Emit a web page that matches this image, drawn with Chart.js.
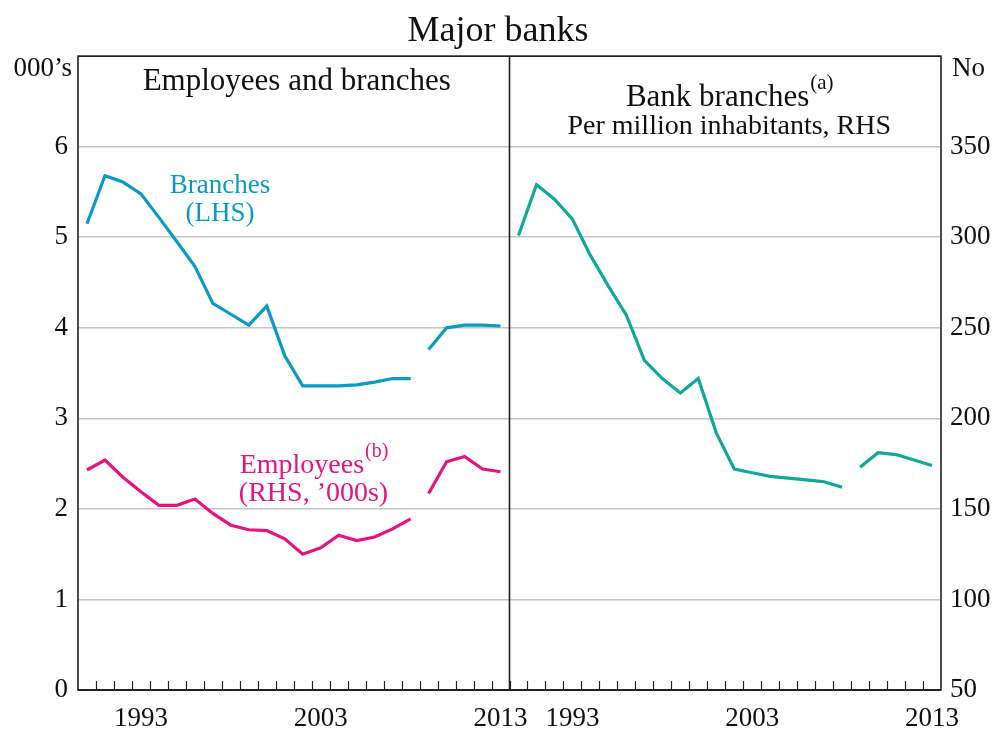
<!DOCTYPE html>
<html>
<head>
<meta charset="utf-8">
<script src="https://cdn.jsdelivr.net/npm/chart.js@4"></script>
<style>
  body { margin: 0; background: #fff; }
  #wrap { width: 996px; height: 731px; position: relative; }
</style>
</head>
<body>
<div id="wrap"><canvas id="banksChart"></canvas></div>
<script>
// annual data, major banks
const years = [1990, 1991, 1992, 1993, 1994, 1995, 1996, 1997, 1998, 1999, 2000, 2001,
               2002, 2003, 2004, 2005, 2006, 2007, 2008, 2009, 2010, 2011, 2012, 2013];
const branches = [5.15, 5.68, 5.61, 5.48, 5.22, 4.95, 4.68, 4.27, 4.15, 4.03, 4.24, 3.69,
                  3.36, 3.36, 3.36, 3.37, 3.40, 3.44, 3.44, 3.76, 4.00, 4.03, 4.03, 4.02];
const employees = [2.43, 2.54, 2.35, 2.19, 2.04, 2.04, 2.11, 1.95, 1.82, 1.77, 1.76, 1.67,
                   1.50, 1.57, 1.71, 1.65, 1.69, 1.78, 1.89, 2.17, 2.52, 2.58, 2.44, 2.41];
const branchesPerMillion = [301, 329, 321, 310, 290, 273, 257, 232, 222, 214, 222, 192,
                            172, 170, 168, 167, 166, 165, 162, 173, 181, 180, 177, 174];
const breakAfter = 2008;          // series break between 2008 and 2009
const tickYears = [1993, 2003, 2013];
const leftTicks = [0, 1, 2, 3, 4, 5, 6];
const rightTicks = [50, 100, 150, 200, 250, 300, 350];

const SERIF = "'Liberation Serif', 'Times New Roman', serif";
const BLUE = '#0a9bc4';
const PINK = '#e5147f';
const TEAL = '#10a89a';
const span = years.length;        // second panel is shifted by one full panel width
const x0 = years[0];

Chart.defaults.font.family = SERIF;
Chart.defaults.color = '#111';

function pts(values, shift) {
  return years.map((yr, i) => ({ x: yr + 0.5 + shift, y: values[i] }));
}

const gap = {
  borderColor: ctx => years[ctx.p0DataIndex] === breakAfter ? 'rgba(0,0,0,0)' : undefined
};

const framePlugin = {
  id: 'frame',
  afterDatasetsDraw(chart) {
    const { ctx, chartArea: a, scales } = chart;
    const xs = scales.x;
    ctx.save();
    ctx.strokeStyle = '#222';
    // small year ticks along the bottom
    ctx.lineWidth = 1.2;
    for (let yr = x0 + 1; yr < x0 + 2 * span; yr++) {
      const px = Math.round(xs.getPixelForValue(yr)) + 0.5;
      ctx.beginPath();
      ctx.moveTo(px, a.bottom);
      ctx.lineTo(px, a.bottom - 9);
      ctx.stroke();
    }
    ctx.lineWidth = 1.6;
    ctx.strokeRect(a.left, a.top, a.right - a.left, a.bottom - a.top);
    const mid = xs.getPixelForValue(x0 + span);
    ctx.beginPath();
    ctx.moveTo(mid, a.top);
    ctx.lineTo(mid, a.bottom);
    ctx.stroke();
    ctx.lineWidth = 2.2;
    ctx.beginPath();
    ctx.moveTo(a.left, a.bottom);
    ctx.lineTo(a.right, a.bottom);
    ctx.stroke();
    ctx.restore();
  },
  afterDraw(chart) {
    const { ctx, chartArea: a, scales } = chart;
    const xs = scales.x, yl = scales.y;
    const leftMid = (a.left + xs.getPixelForValue(x0 + span)) / 2 + 3;
    const rightMid = (xs.getPixelForValue(x0 + span) + a.right) / 2 + 4;

    function supText(text, sup, cx, y, size, supSize, color) {
      ctx.font = size + 'px ' + SERIF;
      const w1 = ctx.measureText(text).width;
      ctx.font = supSize + 'px ' + SERIF;
      const w2 = ctx.measureText(sup).width;
      const start = cx - (w1 + w2) / 2;
      ctx.fillStyle = color;
      ctx.textAlign = 'left';
      ctx.font = size + 'px ' + SERIF;
      ctx.fillText(text, start, y);
      ctx.font = supSize + 'px ' + SERIF;
      ctx.fillText(sup, start + w1 + 1, y - size * 0.55);
    }

    ctx.save();
    ctx.textBaseline = 'alphabetic';
    ctx.fillStyle = '#111';
    ctx.font = '27px ' + SERIF;
    ctx.textAlign = 'right';
    ctx.fillText('000\u2019s', a.left - 6, a.top + 20);
    ctx.textAlign = 'left';
    ctx.fillText('No', a.right + 11, a.top + 20);

    ctx.font = '31px ' + SERIF;
    ctx.textAlign = 'center';
    ctx.fillText('Employees and branches', leftMid, a.top + 34);
    supText('Bank branches', '(a)', rightMid, a.top + 50, 31, 21, '#111');
    ctx.fillStyle = '#111';
    ctx.font = '28px ' + SERIF;
    ctx.textAlign = 'center';
    ctx.fillText('Per million inhabitants, RHS', rightMid, a.top + 78);

    // series labels
    ctx.fillStyle = BLUE;
    ctx.font = '27px ' + SERIF;
    const bx = xs.getPixelForValue(1997.9);
    ctx.fillText('Branches', bx, yl.getPixelForValue(5.49));
    ctx.fillText('(LHS)', bx, yl.getPixelForValue(5.18));

    const ex = xs.getPixelForValue(2003.1);
    supText('Employees', '(b)', ex, yl.getPixelForValue(2.40), 28, 20, PINK);
    ctx.fillStyle = PINK;
    ctx.font = '28px ' + SERIF;
    ctx.textAlign = 'center';
    ctx.fillText('(RHS, \u2019000s)', ex, yl.getPixelForValue(2.09));
    ctx.restore();
  }
};

const ctx = document.getElementById('banksChart').getContext('2d');
new Chart(ctx, {
  type: 'line',
  data: {
    datasets: [
      {
        label: 'Branches (LHS)',
        data: pts(branches, 0),
        yAxisID: 'y',
        borderColor: BLUE,
        borderWidth: 3.2,
        pointRadius: 0,
        tension: 0,
        segment: gap
      },
      {
        label: 'Employees',
        data: pts(employees, 0),
        yAxisID: 'y',
        borderColor: PINK,
        borderWidth: 3.2,
        pointRadius: 0,
        tension: 0,
        segment: gap
      },
      {
        label: 'Bank branches per million inhabitants',
        data: pts(branchesPerMillion, span),
        yAxisID: 'y2',
        borderColor: TEAL,
        borderWidth: 3.2,
        pointRadius: 0,
        tension: 0,
        segment: gap
      }
    ]
  },
  options: {
    responsive: true,
    maintainAspectRatio: false,
    animation: false,
    layout: { padding: 0 },
    plugins: {
      legend: { display: false },
      tooltip: { enabled: false },
      title: {
        display: true,
        text: 'Major banks',
        color: '#111',
        font: { size: 36, weight: 'normal', family: SERIF },
        padding: { top: 10, bottom: 3 }
      }
    },
    scales: {
      x: {
        type: 'linear',
        min: x0,
        max: x0 + 2 * span,
        afterFit: s => { s.height = 41; },
        afterBuildTicks: s => {
          s.ticks = tickYears.concat(tickYears.map(t => t + span)).map(v => ({ value: v + 0.5 }));
        },
        ticks: {
          autoSkip: false,
          maxRotation: 0,
          padding: 13,
          font: { size: 27 },
          color: '#111',
          callback: v => String(Math.floor(v) - (v > x0 + span ? span : 0))
        },
        grid: { display: false, drawTicks: false },
        border: { display: false }
      },
      y: {
        position: 'left',
        min: 0,
        max: 7,
        afterFit: s => { s.width = 78; },
        afterBuildTicks: s => { s.ticks = leftTicks.concat([7]).map(v => ({ value: v })); },
        ticks: {
          padding: 10,
          font: { size: 27 },
          color: '#111',
          callback: v => leftTicks.includes(v) ? v : ''
        },
        grid: { color: '#c4c4c4', lineWidth: 1.6, drawTicks: false },
        border: { display: false }
      },
      y2: {
        position: 'right',
        min: 50,
        max: 400,
        afterFit: s => { s.width = 55; },
        afterBuildTicks: s => { s.ticks = rightTicks.concat([400]).map(v => ({ value: v })); },
        ticks: {
          padding: 9,
          font: { size: 27 },
          color: '#111',
          callback: v => rightTicks.includes(v) ? v : ''
        },
        grid: { drawOnChartArea: false, drawTicks: false },
        border: { display: false }
      }
    }
  },
  plugins: [framePlugin]
});
</script>
</body>
</html>
